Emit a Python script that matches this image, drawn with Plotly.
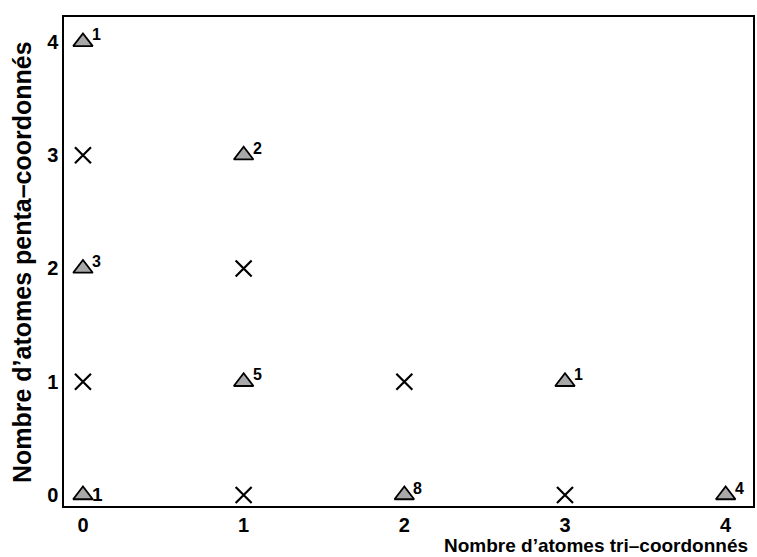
import plotly.graph_objects as go

# Data
tri_x = [0, 1, 0, 1, 3, 0, 2, 4]
tri_y = [4, 3, 2, 1, 1, 0, 0, 0]
tri_n = ["1", "2", "3", "5", "1", "1", "8", "4"]
cross_x = [0, 1, 0, 2, 1, 3]
cross_y = [3, 2, 1, 1, 0, 0]
x_ticks = [0, 1, 2, 3, 4]
y_ticks = [0, 1, 2, 3, 4]
x_title = "Nombre d’atomes tri–coordonnés"
y_title = "Nombre d’atomes penta–coordonnés"

FONT = "Liberation Sans, Arial, Helvetica, sans-serif"

fig = go.Figure()
fig.add_trace(go.Scatter(
    x=tri_x, y=tri_y, mode="markers",
    marker=dict(symbol="triangle-up", size=17, color="#a8a8a8",
                line=dict(color="black", width=1.8)),
    hoverinfo="skip", showlegend=False))
fig.add_trace(go.Scatter(
    x=cross_x, y=cross_y, mode="markers",
    marker=dict(symbol="x-thin", size=16,
                line=dict(color="black", width=2.2)),
    hoverinfo="skip", showlegend=False))

for i, (x, y, n) in enumerate(zip(tri_x, tri_y, tri_n)):
    raised = not (x == 0 and y == 0)
    fig.add_annotation(x=x, y=y, text=n, showarrow=False,
                       xanchor="left", yanchor="middle",
                       xshift=7, yshift=7 if raised else 1,
                       font=dict(family=FONT, size=16 if raised else 19,
                                 color="black", weight="bold"))

fig.add_annotation(xref="paper", yref="paper", x=(751 - 64) / 691,
                   y=(506 - 545) / 489,
                   xanchor="right", yanchor="middle", showarrow=False,
                   text=x_title, borderpad=0,
                   font=dict(family=FONT, size=19, color="black", weight="bold"))
fig.add_annotation(xref="paper", yref="paper", x=(22 - 64) / 691,
                   y=(506 - 262) / 489,
                   xanchor="center", yanchor="middle", showarrow=False,
                   textangle=-90, text=y_title,
                   font=dict(family=FONT, size=25, color="black", weight="bold"))

axis_common = dict(showgrid=False, zeroline=False, showline=True,
                   linecolor="black", linewidth=1.5, mirror=True,
                   ticks="", tickfont=dict(family=FONT, size=20,
                                           color="black", weight="bold"))
fig.update_xaxes(range=[-0.118, 4.17], tickvals=x_ticks, **axis_common)
fig.update_yaxes(range=[-0.097, 4.22], tickvals=y_ticks, **axis_common)

fig.update_layout(width=757, height=557,
                  margin=dict(l=64, r=2, t=17, b=51),
                  paper_bgcolor="white", plot_bgcolor="white")

fig.write_html("out.html", config={"displayModeBar": False},
               post_script="document.body.style.margin='0';document.body.style.overflow='hidden';")
